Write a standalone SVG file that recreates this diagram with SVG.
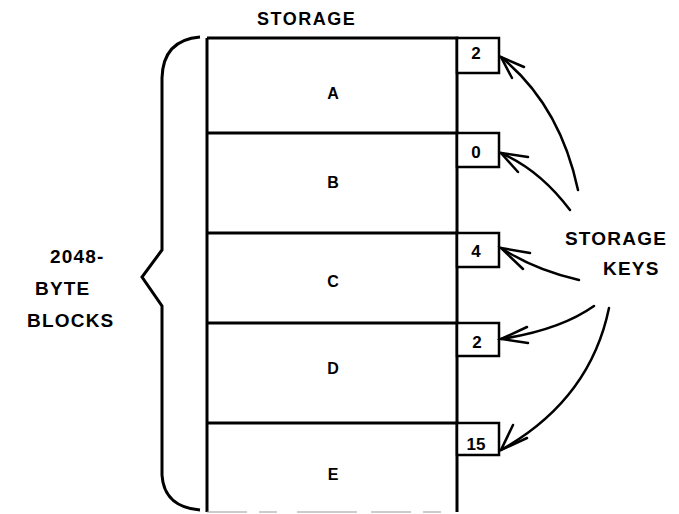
<svg xmlns="http://www.w3.org/2000/svg" width="679" height="514" viewBox="0 0 679 514">
  <style>
    .lbl { font-family: "Liberation Sans", Arial, sans-serif; font-weight: bold; fill: #000; }
    .big { font-size: 18px; letter-spacing: 1.5px; }
    .side { font-size: 19px; letter-spacing: 1.2px; }
    .blk { font-size: 16px; text-anchor: middle; }
    .key { font-size: 17px; text-anchor: middle; }
    .frame { fill: none; stroke: #000; stroke-width: 3; }
    .kbox { fill: #fff; stroke: #000; stroke-width: 2.5; }
    .conn { fill: none; stroke: #000; stroke-width: 2.5; stroke-linecap: round; }
  </style>

  <text class="lbl big" x="257" y="25">STORAGE</text>

  <!-- brace spanning the blocks -->
  <path class="frame" d="M200,37 Q163,40 162,78 L162,250 L142,277 L162,306 L162,475 Q164,507 200,510"/>

  <g id="caption">
    <text class="lbl side" x="50" y="263">2048-</text>
    <text class="lbl side" x="35" y="295">BYTE</text>
    <text class="lbl side" x="27" y="327">BLOCKS</text>
  </g>

  <!-- storage column -->
  <g id="block-A">
    <path class="frame" d="M207,38 L457,38 L457,133 M207,38 L207,133"/>
    <text class="lbl blk" x="333" y="99">A</text>
  </g>
  <g id="block-B">
    <path class="frame" d="M207,133 L457,133 L457,233 M207,133 L207,233"/>
    <text class="lbl blk" x="333" y="188">B</text>
  </g>
  <g id="block-C">
    <path class="frame" d="M207,233 L457,233 L457,323 M207,233 L207,323"/>
    <text class="lbl blk" x="333" y="287">C</text>
  </g>
  <g id="block-D">
    <path class="frame" d="M207,323 L457,323 L457,423 M207,323 L207,423"/>
    <text class="lbl blk" x="333" y="374">D</text>
  </g>
  <g id="block-E">
    <path class="frame" d="M207,423 L457,423 L457,512 M207,423 L207,512"/>
    <line x1="207" y1="512" x2="457" y2="512" stroke="#999" stroke-width="1.2" stroke-dasharray="40 12 18 20 60 14"/>
    <text class="lbl blk" x="333" y="480">E</text>
  </g>

  <!-- storage keys -->
  <g id="key-A">
    <rect class="kbox" x="457" y="38" width="42" height="35"/>
    <text class="lbl key" x="476" y="59">2</text>
  </g>
  <g id="key-B">
    <rect class="kbox" x="457" y="133" width="42" height="34"/>
    <text class="lbl key" x="476" y="158">0</text>
  </g>
  <g id="key-C">
    <rect class="kbox" x="457" y="233" width="42" height="34"/>
    <text class="lbl key" x="476" y="257">4</text>
  </g>
  <g id="key-D">
    <rect class="kbox" x="457" y="323" width="42" height="33"/>
    <text class="lbl key" x="477" y="348">2</text>
  </g>
  <g id="key-E">
    <rect class="kbox" x="457" y="423" width="42" height="32"/>
    <text class="lbl key" x="476" y="450">15</text>
  </g>

  <g id="keys-label">
    <text class="lbl side" x="565" y="245">STORAGE</text>
    <text class="lbl side" x="603" y="275">KEYS</text>
  </g>

  <g id="connectors">
    <path class="conn" d="M578,190 Q560,105 501,57"/>
    <path class="conn" d="M524,67 L501,57 L512,78"/>
    <path class="conn" d="M570,210 Q540,170 501,153"/>
    <path class="conn" d="M528,157 L501,153 L518,172"/>
    <path class="conn" d="M579,280 Q535,270 501,248"/>
    <path class="conn" d="M530,253 L501,248 L523,269"/>
    <path class="conn" d="M594,306 Q560,330 501,339"/>
    <path class="conn" d="M527,327 L501,339 L528,343"/>
    <path class="conn" d="M609,308 Q590,400 501,450"/>
    <path class="conn" d="M513,425 L501,450 L527,438"/>
  </g>
</svg>
